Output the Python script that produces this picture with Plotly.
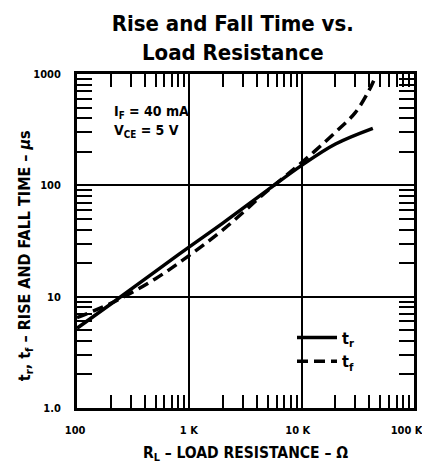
import plotly.graph_objects as go

# Data
r_rise = [100, 200, 500, 1000, 2000, 5000, 10000, 20000, 43000]
t_rise = [5.2, 8.6, 16.9, 28, 46, 91, 151, 235, 325]

r_fall = [100, 200, 500, 1000, 2000, 5000, 10000, 20000, 30000, 40000, 45000]
t_fall = [6.5, 8.7, 14.5, 23.5, 40, 90, 160, 300, 450, 720, 930]

x_tickvals = [100, 1000, 10000, 100000]
x_ticktext = ["100", "1 K", "10 K", "100 K"]
y_tickvals = [1, 10, 100, 1000]
y_ticktext = ["1.0", "10", "100", "1000"]

FONT = "DejaVu Sans Condensed, Liberation Sans Narrow, Arial Narrow, sans-serif"

x_minor = [m * 10 ** e for e in (2, 3, 4) for m in range(2, 10)]
y_minor = [m * 10 ** e for e in (0, 1, 2) for m in range(2, 10)]

fig = go.Figure()
fig.add_trace(go.Scatter(x=r_rise, y=t_rise, mode="lines", name="t<sub>r</sub>",
                         line=dict(color="black", width=3.5, shape="spline")))
fig.add_trace(go.Scatter(x=r_fall, y=t_fall, mode="lines", name="t<sub>f</sub>",
                         line=dict(color="black", width=3.5, dash="11px,6px", shape="spline")))

axis_common = dict(
    type="log", showline=True, linecolor="black", linewidth=3, mirror="allticks",
    ticks="inside", ticklen=22, tickwidth=2, tickcolor="black",
    showgrid=True, gridcolor="black", gridwidth=2, zeroline=False,
    automargin=False, ticklabeloverflow="allow",
    tickfont=dict(family=FONT, size=11, color="black", weight="bold"),
)

fig.update_xaxes(**axis_common, range=[2, 5], tickmode="array",
                 tickvals=x_tickvals, ticktext=x_ticktext, ticklabelstandoff=10,
                 ticklabelposition="outside left", ticklabelshift=11,
                 minor=dict(tickmode="array", tickvals=x_minor, ticks="inside",
                            ticklen=13, tickwidth=2, tickcolor="black", showgrid=False),
                 title=dict(text="R<sub>L</sub> – LOAD RESISTANCE – Ω",
                            font=dict(family=FONT, size=15.5, color="black", weight="bold"),
                            standoff=19))
fig.update_yaxes(**axis_common, range=[0, 3], tickmode="array",
                 tickvals=y_tickvals, ticktext=y_ticktext, ticklabelstandoff=11,
                 minor=dict(tickmode="array", tickvals=y_minor, ticks="inside",
                            ticklen=15, tickwidth=2, tickcolor="black", showgrid=False))

# y-axis title (placed as rotated text, slightly below the plot's centre as in the original)
fig.add_annotation(xref="paper", yref="paper", x=-0.154, y=0.455, xanchor="center", yanchor="middle",
                   textangle=-90, showarrow=False,
                   text="t<sub>r</sub>, t<sub>f</sub> – RISE AND FALL TIME – <i>μ</i>s",
                   font=dict(family=FONT, size=16, color="black", weight="bold"))

# white gaps in the grid behind the text block and legend
fig.add_shape(type="rect", xref="paper", yref="paper", x0=0.30, x1=0.36, y0=0.787, y1=0.958,
              fillcolor="white", line=dict(width=0), layer="between")
fig.add_shape(type="rect", xref="paper", yref="paper", x0=0.63, x1=0.70, y0=0.105, y1=0.248,
              fillcolor="white", line=dict(width=0), layer="between")

fig.add_annotation(xref="paper", yref="paper", x=0.105, y=0.886, xanchor="left", yanchor="middle",
                   text="I<sub>F</sub> = 40 mA", showarrow=False,
                   font=dict(family=FONT, size=14, color="black", weight="bold"))
fig.add_annotation(xref="paper", yref="paper", x=0.105, y=0.829, xanchor="left", yanchor="middle",
                   text="V<sub>CE</sub> = 5 V", showarrow=False,
                   font=dict(family=FONT, size=14, color="black", weight="bold"))

# the page body adds an 8px margin: size the figure so the page fits the window exactly
fig.update_layout(
    width=414, height=456,
    margin=dict(l=69, r=8, t=66, b=56, autoexpand=False),
    paper_bgcolor="white", plot_bgcolor="white",
    title=dict(text="Rise and Fall Time vs.<br>Load Resistance", x=0.543, xanchor="center",
               yref="container", y=0.949, yanchor="middle", automargin=False,
               font=dict(family=FONT, size=22, color="black", weight="bold")),
    showlegend=True,
    legend=dict(x=0.638, y=0.262, xanchor="left", yanchor="top", bgcolor="rgba(0,0,0,0)",
                font=dict(family=FONT, size=16, color="black", weight="bold"),
                itemwidth=40, tracegroupgap=6),
)

fig.write_html("out.html")
